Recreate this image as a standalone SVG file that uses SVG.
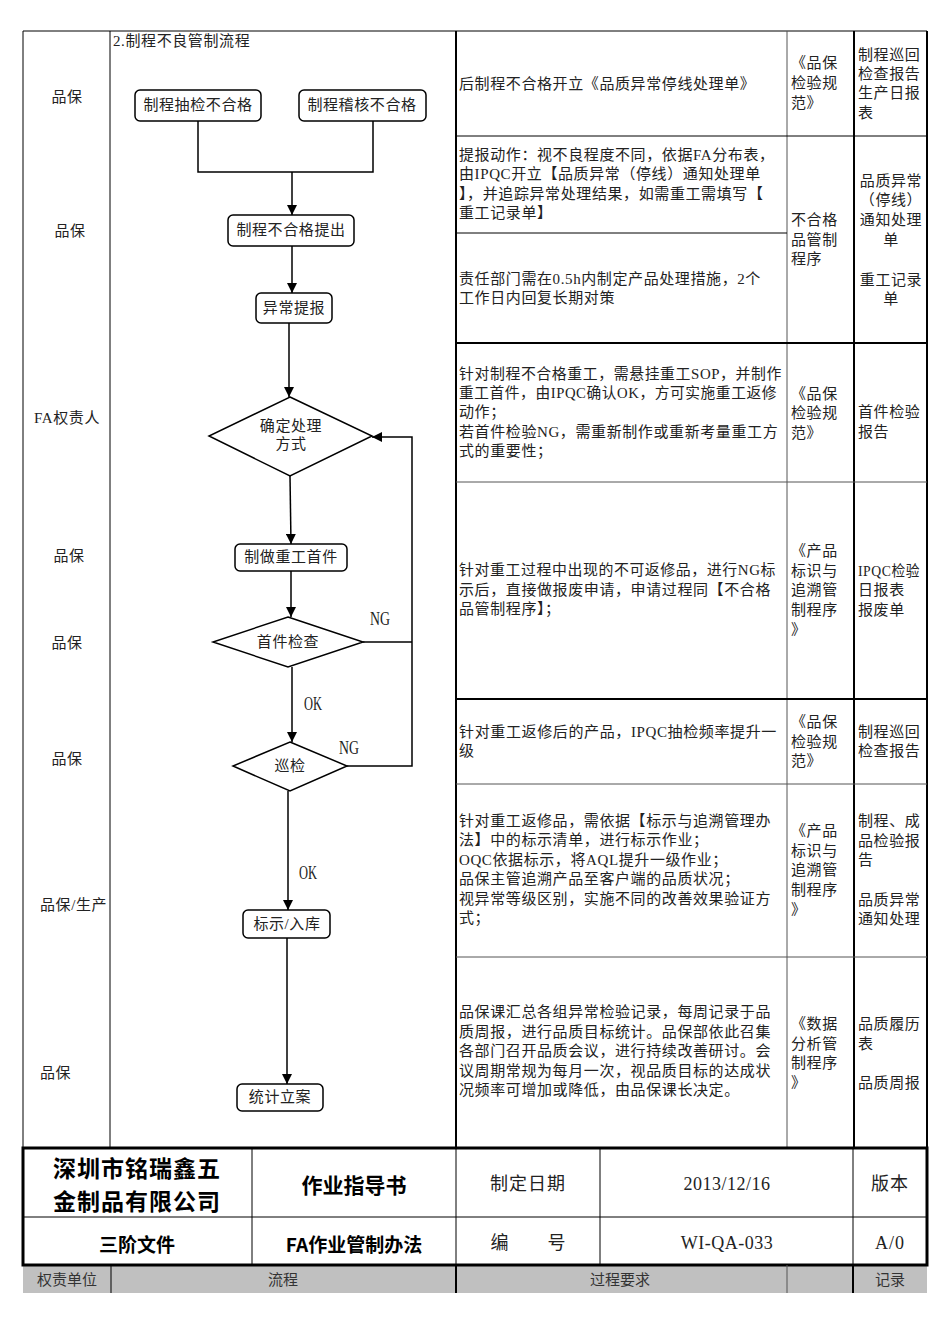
<svg xmlns="http://www.w3.org/2000/svg" width="950" height="1344" viewBox="0 0 950 1344">
<style>
text{font-family:"Liberation Serif","Noto Sans CJK SC",serif;fill:#222;dominant-baseline:central}
.t{font-size:15px;letter-spacing:0.6px}
.c{text-anchor:middle}
.lbl{font-size:18px}
.h1{font-family:"Noto Sans CJK SC","Liberation Sans",sans-serif;font-weight:bold;font-size:23px;fill:#000;text-anchor:middle;letter-spacing:1px}
.h2{font-family:"Noto Sans CJK SC","Liberation Sans",sans-serif;font-weight:bold;font-size:19px;fill:#000;text-anchor:middle}
.h3{font-size:18px;text-anchor:middle;letter-spacing:1px}
.g{font-size:15px;text-anchor:middle;fill:#333}
.thin{stroke:#000;stroke-width:1;fill:none}
.gray{stroke:#555;stroke-width:1;fill:none}
.thick{stroke:#000;stroke-width:2;fill:none}
.box{fill:#fff;stroke:#000;stroke-width:1.5}
.conn{stroke:#000;stroke-width:1.5;fill:none}
</style>
<defs>
<marker id="arr" markerUnits="userSpaceOnUse" markerWidth="10" markerHeight="10" refX="10" refY="5" orient="auto">
<path d="M0,0 L10,5 L0,10 z" fill="#000"/>
</marker>
</defs>
<rect width="950" height="1344" fill="#fff"/>

<g id="grid">
<rect x="23" y="1265" width="904" height="28" fill="#c0c0c0"/>
<line class="thin" x1="23" y1="31" x2="927" y2="31"/>
<line class="thin" x1="23" y1="31" x2="23" y2="1148"/>
<line class="thin" x1="110" y1="31" x2="110" y2="1148"/>
<line class="thick" x1="456" y1="31" x2="456" y2="1148"/>
<line class="gray" x1="787" y1="31" x2="787" y2="1148"/>
<line class="thick" x1="854" y1="31" x2="854" y2="1148"/>
<line class="thick" x1="927" y1="31" x2="927" y2="1148"/>
<line class="thin" x1="456" y1="136" x2="927" y2="136"/>
<line class="thin" x1="456" y1="233" x2="787" y2="233"/>
<line class="thick" x1="456" y1="343" x2="927" y2="343"/>
<line class="gray" x1="456" y1="482" x2="927" y2="482"/>
<line class="thick" x1="456" y1="699" x2="927" y2="699"/>
<line class="gray" x1="456" y1="784" x2="927" y2="784"/>
<line class="gray" x1="456" y1="957" x2="927" y2="957"/>
<rect x="23" y="1148" width="904" height="117" fill="none" stroke="#000" stroke-width="3"/>
<line class="thin" x1="23" y1="1217" x2="927" y2="1217" stroke-width="1.5"/>
<line class="thin" x1="252" y1="1148" x2="252" y2="1265" stroke-width="1.5"/>
<line class="thin" x1="456" y1="1148" x2="456" y2="1265" stroke-width="1.5"/>
<line class="thin" x1="600" y1="1148" x2="600" y2="1265" stroke-width="1.5"/>
<line class="thin" x1="853" y1="1148" x2="853" y2="1265" stroke-width="1.5"/>
<line class="thin" x1="111" y1="1265" x2="111" y2="1293"/>
<line class="thick" x1="456" y1="1265" x2="456" y2="1293"/>
<line class="gray" x1="787" y1="1265" x2="787" y2="1293"/>
<line class="thick" x1="853" y1="1265" x2="853" y2="1293"/>
</g>

<g id="responsibility">
<text class="t c" x="67" y="97">品保</text>
<text class="t c" x="70" y="231">品保</text>
<text class="t c" x="67" y="418">FA权责人</text>
<text class="t c" x="69" y="556">品保</text>
<text class="t c" x="67" y="643">品保</text>
<text class="t c" x="67" y="759">品保</text>
<text class="t" x="40" y="905">品保/生产</text>
<text class="t" x="40" y="1073">品保</text>
</g>

<text class="t" x="113" y="41">2.制程不良管制流程</text>

<g id="connectors">
<polyline class="conn" points="198,121 198,172 373,172 373,121"/>
<line class="conn" x1="292" y1="172" x2="292" y2="215" marker-end="url(#arr)"/>
<line class="conn" x1="292" y1="246" x2="292" y2="293" marker-end="url(#arr)"/>
<line class="conn" x1="289" y1="323" x2="289" y2="397" marker-end="url(#arr)"/>
<line class="conn" x1="290" y1="476" x2="291" y2="544" marker-end="url(#arr)"/>
<line class="conn" x1="291" y1="571" x2="291" y2="617" marker-end="url(#arr)"/>
<line class="conn" x1="363" y1="642" x2="412" y2="642"/>
<path class="conn" d="M347,766 H412 V437 H372" marker-end="url(#arr)"/>
<line class="conn" x1="292" y1="667" x2="292" y2="742" marker-end="url(#arr)"/>
<line class="conn" x1="288" y1="791" x2="288" y2="910" marker-end="url(#arr)"/>
<line class="conn" x1="287" y1="938" x2="287" y2="1084" marker-end="url(#arr)"/>
<text class="lbl" x="370" y="619" textLength="20" lengthAdjust="spacingAndGlyphs">NG</text>
<text class="lbl" x="304" y="704" textLength="18" lengthAdjust="spacingAndGlyphs">OK</text>
<text class="lbl" x="339" y="748" textLength="20" lengthAdjust="spacingAndGlyphs">NG</text>
<text class="lbl" x="299" y="873" textLength="18" lengthAdjust="spacingAndGlyphs">OK</text>
</g>

<g id="n1"><rect class="box" x="135" y="90" width="126" height="31" rx="5"/><text class="t c" x="198" y="105">制程抽检不合格</text></g>
<g id="n2"><rect class="box" x="299" y="90" width="127" height="31" rx="5"/><text class="t c" x="362" y="105">制程稽核不合格</text></g>
<g id="n3"><rect class="box" x="228" y="215" width="126" height="31" rx="5"/><text class="t c" x="291" y="230">制程不合格提出</text></g>
<g id="n4"><rect class="box" x="256" y="293" width="76" height="30" rx="5"/><text class="t c" x="294" y="308">异常提报</text></g>
<g id="n5"><polygon class="box" points="290,397 372,436 290,476 209,436"/><text class="t c" x="291" y="426">确定处理</text><text class="t c" x="291" y="444">方式</text></g>
<g id="n6"><rect class="box" x="235" y="544" width="112" height="27" rx="5"/><text class="t c" x="291" y="557">制做重工首件</text></g>
<g id="n7"><polygon class="box" points="288,617 363,642 288,667 213,642"/><text class="t c" x="288" y="642">首件检查</text></g>
<g id="n8"><polygon class="box" points="290,742 347,766 290,791 233,766"/><text class="t c" x="290" y="766">巡检</text></g>
<g id="n9"><rect class="box" x="243" y="910" width="87" height="28" rx="5"/><text class="t c" x="287" y="924">标示/入库</text></g>
<g id="n10"><rect class="box" x="237" y="1084" width="86" height="27" rx="5"/><text class="t c" x="280" y="1097">统计立案</text></g>

<g id="requirements">
<text class="t" x="459" y="84">后制程不合格开立《品质异常停线处理单》</text>
<text class="t" x="459" y="155">提报动作：视不良程度不同，依据FA分布表，</text>
<text class="t" x="459" y="174">由IPQC开立【品质异常（停线）通知处理单</text>
<text class="t" x="459" y="194">】，并追踪异常处理结果，如需重工需填写【</text>
<text class="t" x="459" y="213">重工记录单】</text>
<text class="t" x="459" y="279">责任部门需在0.5h内制定产品处理措施，2个</text>
<text class="t" x="459" y="298">工作日内回复长期对策</text>
<text class="t" x="459" y="374" textLength="323" lengthAdjust="spacingAndGlyphs">针对制程不合格重工，需悬挂重工SOP，并制作</text>
<text class="t" x="459" y="393" textLength="318" lengthAdjust="spacingAndGlyphs">重工首件，由IPQC确认OK，方可实施重工返修</text>
<text class="t" x="459" y="412">动作；</text>
<text class="t" x="459" y="432">若首件检验NG，需重新制作或重新考量重工方</text>
<text class="t" x="459" y="451">式的重要性；</text>
<text class="t" x="459" y="570" textLength="317" lengthAdjust="spacingAndGlyphs">针对重工过程中出现的不可返修品，进行NG标</text>
<text class="t" x="459" y="590">示后，直接做报废申请，申请过程同【不合格</text>
<text class="t" x="459" y="609">品管制程序】；</text>
<text class="t" x="459" y="732" textLength="318" lengthAdjust="spacingAndGlyphs">针对重工返修后的产品，IPQC抽检频率提升一</text>
<text class="t" x="459" y="751">级</text>
<text class="t" x="459" y="821">针对重工返修品，需依据【标示与追溯管理办</text>
<text class="t" x="459" y="840">法】中的标示清单，进行标示作业；</text>
<text class="t" x="459" y="860">OQC依据标示，将AQL提升一级作业；</text>
<text class="t" x="459" y="879">品保主管追溯产品至客户端的品质状况；</text>
<text class="t" x="459" y="899">视异常等级区别，实施不同的改善效果验证方</text>
<text class="t" x="459" y="918">式；</text>
<text class="t" x="459" y="1012">品保课汇总各组异常检验记录，每周记录于品</text>
<text class="t" x="459" y="1032">质周报，进行品质目标统计。品保部依此召集</text>
<text class="t" x="459" y="1051">各部门召开品质会议，进行持续改善研讨。会</text>
<text class="t" x="459" y="1071">议周期常规为每月一次，视品质目标的达成状</text>
<text class="t" x="459" y="1090">况频率可增加或降低，由品保课长决定。</text>
</g>

<g id="references">
<text class="t" x="791" y="63">《品保</text><text class="t" x="791" y="83">检验规</text><text class="t" x="791" y="103">范》</text>
<text class="t" x="791" y="220">不合格</text><text class="t" x="791" y="240">品管制</text><text class="t" x="791" y="259">程序</text>
<text class="t" x="791" y="394">《品保</text><text class="t" x="791" y="413">检验规</text><text class="t" x="791" y="433">范》</text>
<text class="t" x="791" y="551">《产品</text><text class="t" x="791" y="571">标识与</text><text class="t" x="791" y="590">追溯管</text><text class="t" x="791" y="610">制程序</text><text class="t" x="791" y="630">》</text>
<text class="t" x="791" y="722">《品保</text><text class="t" x="791" y="742">检验规</text><text class="t" x="791" y="761">范》</text>
<text class="t" x="791" y="831">《产品</text><text class="t" x="791" y="851">标识与</text><text class="t" x="791" y="870">追溯管</text><text class="t" x="791" y="890">制程序</text><text class="t" x="791" y="910">》</text>
<text class="t" x="791" y="1024">《数据</text><text class="t" x="791" y="1044">分析管</text><text class="t" x="791" y="1063">制程序</text><text class="t" x="791" y="1083">》</text>
</g>

<g id="records">
<text class="t" x="858" y="55">制程巡回</text><text class="t" x="858" y="74">检查报告</text><text class="t" x="858" y="93">生产日报</text><text class="t" x="858" y="113">表</text>
<text class="t c" x="891" y="181">品质异常</text><text class="t c" x="891" y="200">（停线）</text><text class="t c" x="891" y="220">通知处理</text><text class="t c" x="891" y="240">单</text><text class="t c" x="891" y="280">重工记录</text><text class="t c" x="891" y="299">单</text>
<text class="t" x="858" y="412">首件检验</text><text class="t" x="858" y="432">报告</text>
<text class="t" x="858" y="571" textLength="62" lengthAdjust="spacingAndGlyphs">IPQC检验</text><text class="t" x="858" y="590">日报表</text><text class="t" x="858" y="610">报废单</text>
<text class="t" x="858" y="732">制程巡回</text><text class="t" x="858" y="751">检查报告</text>
<text class="t" x="858" y="821">制程、成</text><text class="t" x="858" y="841">品检验报</text><text class="t" x="858" y="860">告</text><text class="t" x="858" y="900">品质异常</text><text class="t" x="858" y="919">通知处理</text>
<text class="t" x="858" y="1024">品质履历</text><text class="t" x="858" y="1044">表</text><text class="t" x="858" y="1083">品质周报</text>
</g>

<g id="header">
<text class="h1" x="137" y="1167">深圳市铭瑞鑫五</text>
<text class="h1" x="137" y="1200">金制品有限公司</text>
<text class="h2" x="354" y="1184" style="font-size:21px">作业指导书</text>
<text class="h3" x="528" y="1184">制定日期</text>
<text class="h3" x="727" y="1184" style="letter-spacing:0.5px">2013/12/16</text>
<text class="h3" x="890" y="1184">版本</text>
<text class="h2" x="137" y="1243">三阶文件</text>
<text class="h2" x="354" y="1243">FA作业管制办法</text>
<text class="h3" x="500" y="1243">编</text>
<text class="h3" x="557" y="1243">号</text>
<text class="h3" x="727" y="1243" style="letter-spacing:0.5px">WI-QA-033</text>
<text class="h3" x="890" y="1243">A/0</text>
<text class="g" x="67" y="1280">权责单位</text>
<text class="g" x="283" y="1280">流程</text>
<text class="g" x="620" y="1280">过程要求</text>
<text class="g" x="890" y="1280">记录</text>
</g>
</svg>
